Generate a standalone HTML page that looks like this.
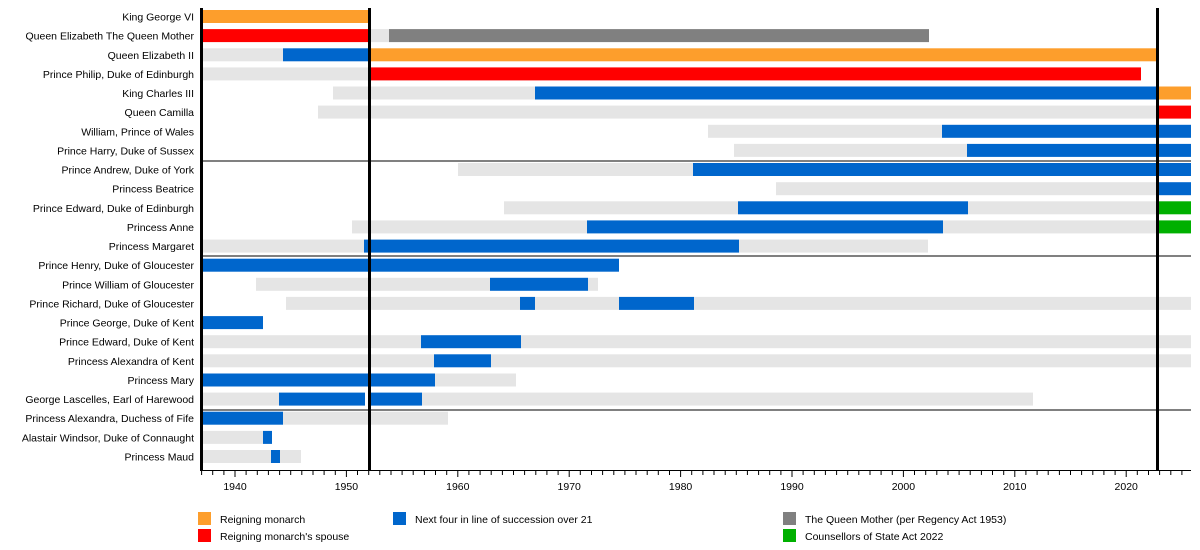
<!DOCTYPE html>
<html><head><meta charset="utf-8"><style>
html,body{margin:0;padding:0;background:#fff;}
svg{display:block;font-family:"Liberation Sans",Arial,sans-serif;}
</style></head><body>
<svg width="1200" height="550" viewBox="0 0 1200 550" xmlns="http://www.w3.org/2000/svg">
<g id="bars"></g>
<g id="labels" font-size="10.5" text-anchor="end" fill="#000"></g>
<line x1="200" y1="161" x2="1191" y2="161" stroke="#000" stroke-width="1"/>
<line x1="200" y1="256" x2="1191" y2="256" stroke="#000" stroke-width="1"/>
<line x1="200" y1="410" x2="1191" y2="410" stroke="#000" stroke-width="1"/>
<line x1="201.5" y1="8" x2="201.5" y2="471" stroke="#000" stroke-width="3"/>
<line x1="369.5" y1="8" x2="369.5" y2="471" stroke="#000" stroke-width="3"/>
<line x1="1157.5" y1="8" x2="1157.5" y2="471" stroke="#000" stroke-width="3"/>
<line x1="200" y1="470.5" x2="1191" y2="470.5" stroke="#000" stroke-width="1"/>
<g id="ticks" stroke="#000" stroke-width="1"></g>
<g id="ticklabels" font-size="10.5" text-anchor="middle" fill="#000"></g>
<g font-size="10.5" fill="#000">
<rect x="198" y="512" width="13" height="13" fill="#fd9e2c"/><text x="220" y="523">Reigning monarch</text>
<rect x="198" y="529" width="13" height="13" fill="#ff0000"/><text x="220" y="540">Reigning monarch's spouse</text>
<rect x="393" y="512" width="13" height="13" fill="#0066cc"/><text x="415" y="523">Next four in line of succession over 21</text>
<rect x="783" y="512" width="13" height="13" fill="#808080"/><text x="805" y="523">The Queen Mother (per Regency Act 1953)</text>
<rect x="783" y="529" width="13" height="13" fill="#00b000"/><text x="805" y="540">Counsellors of State Act 2022</text>
</g>
<script>
var O="#fd9e2c",R="#ff0000",B="#0066cc",G="#808080",L="#e5e5e5",N="#00b000";
var rows=[
["King George VI",[[201,369,O]]],
["Queen Elizabeth The Queen Mother",[[201,369,R],[369,389,L],[389,929,G]]],
["Queen Elizabeth II",[[201,283,L],[283,369,B],[369,1157,O]]],
["Prince Philip, Duke of Edinburgh",[[201,369,L],[369,1141,R]]],
["King Charles III",[[333,535,L],[535,1157,B],[1157,1191,O]]],
["Queen Camilla",[[318,1157,L],[1157,1191,R]]],
["William, Prince of Wales",[[708,942,L],[942,1191,B]]],
["Prince Harry, Duke of Sussex",[[734,967,L],[967,1191,B]]],
["Prince Andrew, Duke of York",[[458,693,L],[693,1191,B]]],
["Princess Beatrice",[[776,1157,L],[1157,1191,B]]],
["Prince Edward, Duke of Edinburgh",[[504,738,L],[738,968,B],[968,1157,L],[1157,1191,N]]],
["Princess Anne",[[352,587,L],[587,943,B],[943,1157,L],[1157,1191,N]]],
["Princess Margaret",[[201,364,L],[364,739,B],[739,928,L]]],
["Prince Henry, Duke of Gloucester",[[201,619,B]]],
["Prince William of Gloucester",[[256,490,L],[490,588,B],[588,598,L]]],
["Prince Richard, Duke of Gloucester",[[286,520,L],[520,535,B],[535,619,L],[619,694,B],[694,1191,L]]],
["Prince George, Duke of Kent",[[201,263,B]]],
["Prince Edward, Duke of Kent",[[201,421,L],[421,521,B],[521,1191,L]]],
["Princess Alexandra of Kent",[[201,434,L],[434,491,B],[491,1191,L]]],
["Princess Mary",[[201,435,B],[435,516,L]]],
["George Lascelles, Earl of Harewood",[[201,279,L],[279,365,B],[369,422,B],[422,1033,L]]],
["Princess Alexandra, Duchess of Fife",[[201,283,B],[283,448,L]]],
["Alastair Windsor, Duke of Connaught",[[201,263,L],[263,272,B]]],
["Princess Maud",[[201,271,L],[271,280,B],[280,301,L]]]
];
var NS="http://www.w3.org/2000/svg";
function el(t,a,p,txt){var e=document.createElementNS(NS,t);for(var k in a)e.setAttribute(k,a[k]);if(txt)e.textContent=txt;document.getElementById(p).appendChild(e);}
rows.forEach(function(r,i){var y=10+i*19.13;
 r[1].forEach(function(s){el("rect",{x:s[0],y:y.toFixed(1),width:s[1]-s[0],height:13,fill:s[2]},"bars");});
 el("text",{x:194,y:(y+10.5).toFixed(1)},"labels",r[0]);});
for(var yr=1937;yr<=2025;yr++){var x=235+(yr-1940)*11.14;
 var big=yr%10==0;el("line",{x1:x.toFixed(1),x2:x.toFixed(1),y1:471,y2:big?477:475},"ticks");
 if(big)el("text",{x:x.toFixed(1),y:490},"ticklabels",""+yr);}
</script>
</svg>
</body></html>
